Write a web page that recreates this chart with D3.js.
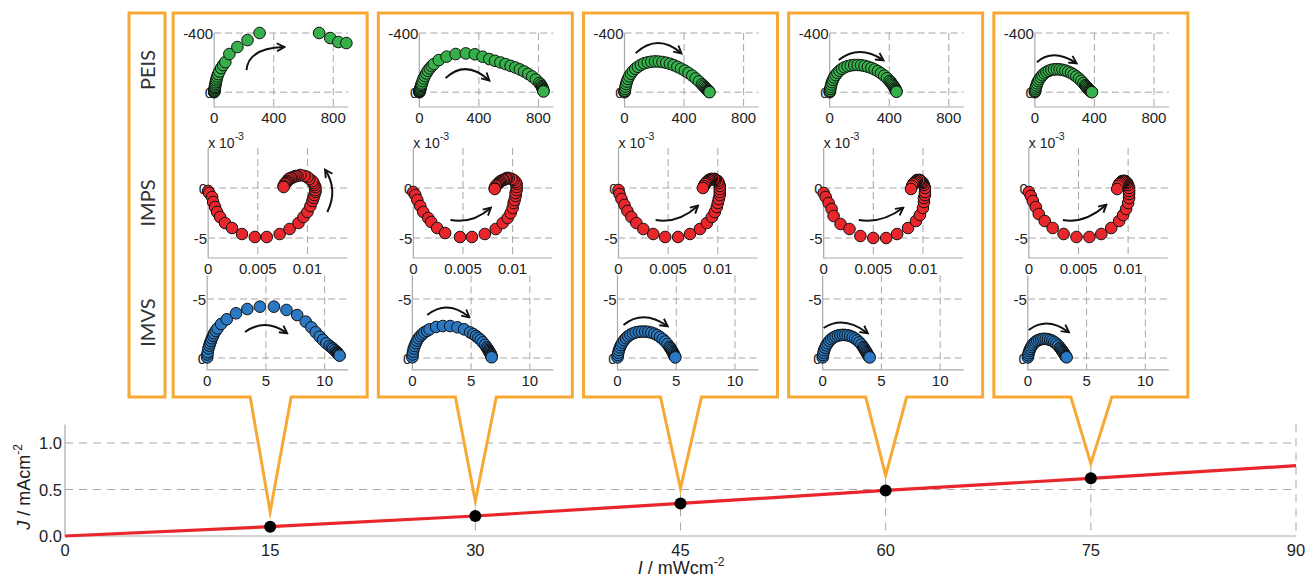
<!DOCTYPE html>
<html>
<head>
<meta charset="utf-8">
<script src="https://cdn.jsdelivr.net/npm/d3@7.9.0/dist/d3.min.js"></script>
<style>
  body { margin: 0; background: #fff; }
  svg { display: block; font-family: "Liberation Sans", Arial, sans-serif; }
</style>
</head>
<body>
<svg id="chart" width="1306" height="577"></svg>
<script>
// light intensity (mW cm-2) and photocurrent (mA cm-2)
const intensities = [15, 30, 45, 60, 75];
const currentDensity = [0.10, 0.215, 0.35, 0.49, 0.62];
const curveI = [0, 15, 30, 45, 60, 75, 90];
const curveJ = [0, 0.10, 0.215, 0.35, 0.49, 0.62, 0.756];
const iTicks = [0, 15, 30, 45, 60, 75, 90];
const jTicks = [0, 0.5, 1.0];

const techniques = ['PEIS', 'IMPS', 'IMVS'];

// PEIS: [Z', Z''] in ohm
const PEIS_15 = [[0,0],[0,-3],[1,-6],[2,-12],[3,-20],[4,-28],[5,-35],[7,-45],[9,-56],[11,-67],[14,-80],[17,-93],[21,-107],[27,-122],[35,-140],[47,-163],[60,-183],[75,-203],[102,-258],[156,-305],[224,-352],[305,-400],[705,-400],[780,-366],[834,-339],[888,-332]];
const PEIS_30 = [[0,0],[1,-3],[2,-5],[3,-8],[4,-12],[5,-18],[7,-25],[9,-33],[11,-42],[14,-50],[18,-59],[22,-75],[29,-93],[37,-110],[47,-127],[57,-145],[70,-161],[83,-176],[97,-190],[131,-217],[183,-240],[244,-258],[312,-262],[373,-256],[425,-240],[470,-224],[508,-212],[545,-201],[579,-190],[613,-178],[645,-167],[675,-154],[704,-140],[731,-124],[758,-106],[783,-86],[806,-63],[815,-52],[821,-41],[825,-33],[828,-25],[830,-19],[832,-14],[833,-9],[834,-5]];
const PEIS_45 = [[0,0],[1,-5],[2,-10],[4,-22],[7,-38],[11,-55],[16,-72],[23,-90],[32,-108],[43,-125],[56,-142],[72,-158],[90,-172],[110,-185],[132,-195],[156,-202],[180,-206],[205,-208],[230,-207],[255,-204],[280,-199],[305,-192],[330,-183],[355,-172],[380,-160],[405,-146],[430,-130],[455,-112],[478,-93],[500,-73],[520,-53],[530,-44],[538,-35],[546,-27],[552,-20],[558,-14],[562,-9],[566,-5],[568,-3],[571,0]];
const PEIS_60 = [[0,0],[1,-5],[2,-10],[4,-22],[7,-36],[11,-52],[16,-68],[22,-84],[30,-100],[40,-116],[52,-131],[66,-145],[82,-158],[100,-168],[120,-176],[142,-181],[165,-184],[188,-184],[211,-182],[234,-178],[257,-172],[280,-164],[302,-154],[324,-142],[345,-128],[366,-112],[385,-95],[402,-77],[410,-68],[417,-58],[424,-49],[430,-40],[436,-31],[440,-24],[444,-17],[446,-11],[448,-6],[449,-3]];
const PEIS_75 = [[0,0],[1,-5],[2,-10],[4,-21],[7,-33],[11,-46],[16,-60],[22,-74],[30,-88],[40,-102],[51,-115],[64,-127],[78,-137],[94,-145],[111,-151],[129,-154],[148,-155],[167,-154],[186,-151],[205,-146],[224,-139],[243,-130],[261,-119],[279,-106],[296,-92],[312,-77],[326,-61],[338,-47],[344,-40],[350,-33],[356,-26],[362,-20],[367,-15],[372,-10],[376,-6],[380,-3],[384,0]];

// IMPS: [Re, Im] of transfer function
const IMPS_15 = [[0.0000,-0.0003],[0.0001,-0.0005],[0.0004,-0.0009],[0.0005,-0.0014],[0.0007,-0.0019],[0.0009,-0.0024],[0.0012,-0.0029],[0.0017,-0.0035],[0.0024,-0.0040],[0.0034,-0.0046],[0.0047,-0.0049],[0.0059,-0.0049],[0.0072,-0.0046],[0.0082,-0.0041],[0.0091,-0.0035],[0.0096,-0.0029],[0.0100,-0.0024],[0.0103,-0.0018],[0.0105,-0.0013],[0.0106,-0.0010],[0.0107,-0.0007],[0.0108,-0.0004],[0.0108,-0.0002],[0.0108,0.0001],[0.0107,0.0003],[0.0106,0.0005],[0.0105,0.0007],[0.0102,0.0009],[0.0100,0.0011],[0.0097,0.0012],[0.0093,0.0013],[0.0090,0.0012],[0.0088,0.0012],[0.0086,0.0011],[0.0084,0.0010],[0.0083,0.0010],[0.0081,0.0009],[0.0080,0.0007],[0.0079,0.0006],[0.0078,0.0005],[0.0077,0.0004],[0.0076,0.0002],[0.0076,0.0001]];
const IMPS_30 = [[0.0000,-0.0004],[0.0002,-0.0007],[0.0004,-0.0012],[0.0007,-0.0018],[0.0010,-0.0024],[0.0015,-0.0030],[0.0018,-0.0034],[0.0024,-0.0040],[0.0032,-0.0045],[0.0047,-0.0049],[0.0059,-0.0049],[0.0072,-0.0046],[0.0083,-0.0041],[0.0090,-0.0035],[0.0095,-0.0030],[0.0098,-0.0025],[0.0100,-0.0020],[0.0101,-0.0015],[0.0102,-0.0012],[0.0103,-0.0008],[0.0103,-0.0005],[0.0104,-0.0002],[0.0104,0.0001],[0.0104,0.0004],[0.0103,0.0006],[0.0101,0.0008],[0.0099,0.0009],[0.0096,0.0010],[0.0094,0.0010],[0.0093,0.0009],[0.0091,0.0008],[0.0090,0.0008],[0.0088,0.0007],[0.0087,0.0006],[0.0086,0.0005],[0.0085,0.0004],[0.0084,0.0003],[0.0083,0.0002],[0.0082,0.0000],[0.0082,-0.0001]];
const IMPS_45 = [[0.0000,-0.0002],[0.0001,-0.0006],[0.0003,-0.0011],[0.0006,-0.0017],[0.0009,-0.0023],[0.0013,-0.0029],[0.0018,-0.0035],[0.0025,-0.0041],[0.0035,-0.0046],[0.0047,-0.0049],[0.0060,-0.0049],[0.0072,-0.0046],[0.0082,-0.0041],[0.0089,-0.0035],[0.0094,-0.0029],[0.0097,-0.0024],[0.0099,-0.0019],[0.0100,-0.0015],[0.0101,-0.0011],[0.0102,-0.0007],[0.0102,-0.0004],[0.0102,-0.0001],[0.0102,0.0002],[0.0101,0.0005],[0.0100,0.0007],[0.0098,0.0008],[0.0097,0.0009],[0.0096,0.0009],[0.0094,0.0009],[0.0093,0.0009],[0.0092,0.0008],[0.0091,0.0008],[0.0090,0.0007],[0.0089,0.0006],[0.0088,0.0005],[0.0087,0.0004],[0.0086,0.0002],[0.0085,0.0000]];
const IMPS_60 = [[0.0000,-0.0005],[0.0002,-0.0009],[0.0005,-0.0015],[0.0008,-0.0021],[0.0010,-0.0028],[0.0017,-0.0036],[0.0026,-0.0041],[0.0037,-0.0048],[0.0050,-0.0050],[0.0063,-0.0050],[0.0074,-0.0046],[0.0085,-0.0040],[0.0093,-0.0033],[0.0097,-0.0027],[0.0100,-0.0020],[0.0101,-0.0014],[0.0101,-0.0010],[0.0102,-0.0007],[0.0102,-0.0004],[0.0102,0.0000],[0.0101,0.0003],[0.0100,0.0005],[0.0099,0.0006],[0.0098,0.0007],[0.0097,0.0008],[0.0096,0.0008],[0.0094,0.0008],[0.0093,0.0007],[0.0092,0.0006],[0.0091,0.0005],[0.0090,0.0004],[0.0089,0.0002],[0.0088,-0.0001]];
const IMPS_75 = [[0.0000,-0.0004],[0.0002,-0.0008],[0.0004,-0.0013],[0.0007,-0.0019],[0.0010,-0.0026],[0.0016,-0.0033],[0.0024,-0.0040],[0.0035,-0.0046],[0.0048,-0.0049],[0.0061,-0.0049],[0.0073,-0.0046],[0.0083,-0.0040],[0.0091,-0.0033],[0.0095,-0.0027],[0.0098,-0.0021],[0.0100,-0.0015],[0.0101,-0.0010],[0.0101,-0.0006],[0.0101,-0.0003],[0.0101,0.0000],[0.0100,0.0003],[0.0099,0.0005],[0.0098,0.0006],[0.0097,0.0007],[0.0096,0.0007],[0.0095,0.0007],[0.0094,0.0007],[0.0093,0.0006],[0.0092,0.0005],[0.0091,0.0004],[0.0090,0.0002],[0.0089,-0.0001]];

// IMVS: [Re, Im]
const IMVS_15 = [[0,-0.05],[0.02,-0.3],[0.05,-0.5],[0.11,-0.82],[0.18,-1.05],[0.25,-1.25],[0.32,-1.45],[0.4,-1.67],[0.5,-1.88],[0.59,-2.09],[0.73,-2.3],[0.88,-2.51],[1.19,-2.88],[1.67,-3.28],[2.46,-3.79],[3.42,-4.15],[4.49,-4.35],[5.68,-4.35],[6.75,-4.07],[7.66,-3.64],[8.39,-3.08],[8.87,-2.6],[9.24,-2.18],[9.58,-1.81],[9.86,-1.53],[10.14,-1.25],[10.42,-1.02],[10.6,-0.88],[10.71,-0.79],[10.85,-0.66],[10.99,-0.54],[11.05,-0.47],[11.1,-0.4],[11.15,-0.34],[11.2,-0.28],[11.24,-0.24],[11.27,-0.2]];
const IMVS_30 = [[0,-0.06],[0.03,-0.3],[0.06,-0.54],[0.12,-0.8],[0.2,-1.02],[0.3,-1.25],[0.4,-1.47],[0.53,-1.67],[0.68,-1.86],[0.85,-2.02],[1.02,-2.17],[1.25,-2.3],[1.47,-2.43],[2.03,-2.63],[2.6,-2.71],[3.22,-2.71],[3.84,-2.6],[4.41,-2.43],[4.92,-2.17],[5.2,-2.02],[5.42,-1.86],[5.62,-1.7],[5.82,-1.53],[6.0,-1.32],[6.19,-1.1],[6.33,-0.9],[6.4,-0.79],[6.47,-0.68],[6.52,-0.59],[6.57,-0.5],[6.62,-0.42],[6.67,-0.34],[6.7,-0.27],[6.72,-0.2],[6.74,-0.12],[6.75,-0.06]];
const IMVS_45 = [[0,-0.05],[0.03,-0.25],[0.07,-0.45],[0.13,-0.68],[0.21,-0.9],[0.3,-1.1],[0.42,-1.3],[0.56,-1.5],[0.72,-1.68],[0.9,-1.84],[1.1,-1.98],[1.32,-2.09],[1.56,-2.17],[1.82,-2.22],[2.08,-2.24],[2.35,-2.24],[2.62,-2.21],[2.88,-2.15],[3.14,-2.06],[3.38,-1.94],[3.62,-1.78],[3.85,-1.6],[4.06,-1.4],[4.25,-1.18],[4.42,-0.95],[4.5,-0.84],[4.57,-0.72],[4.64,-0.61],[4.7,-0.5],[4.75,-0.4],[4.8,-0.3],[4.84,-0.22],[4.87,-0.14],[4.9,-0.09],[4.92,-0.05]];
const IMVS_60 = [[0,-0.05],[0.03,-0.25],[0.07,-0.45],[0.13,-0.66],[0.21,-0.87],[0.31,-1.07],[0.43,-1.26],[0.57,-1.44],[0.73,-1.6],[0.91,-1.73],[1.1,-1.83],[1.3,-1.9],[1.51,-1.94],[1.72,-1.96],[1.93,-1.95],[2.14,-1.92],[2.35,-1.86],[2.56,-1.77],[2.76,-1.65],[2.95,-1.5],[3.13,-1.33],[3.3,-1.14],[3.45,-0.93],[3.52,-0.82],[3.59,-0.71],[3.66,-0.6],[3.72,-0.5],[3.78,-0.4],[3.83,-0.3],[3.88,-0.22],[3.93,-0.14],[3.97,-0.09],[4.0,-0.05]];
const IMVS_75 = [[0,-0.05],[0.03,-0.23],[0.07,-0.41],[0.13,-0.6],[0.2,-0.77],[0.29,-0.94],[0.39,-1.1],[0.51,-1.24],[0.65,-1.37],[0.8,-1.47],[0.97,-1.55],[1.15,-1.6],[1.33,-1.62],[1.52,-1.62],[1.71,-1.59],[1.9,-1.54],[2.08,-1.46],[2.26,-1.35],[2.43,-1.21],[2.59,-1.05],[2.74,-0.87],[2.81,-0.78],[2.88,-0.68],[2.95,-0.58],[3.01,-0.49],[3.07,-0.4],[3.13,-0.31],[3.18,-0.23],[3.22,-0.16],[3.26,-0.1],[3.3,-0.06]];

// curved arrows [start, control, end] in each subplot's data units
const peisArrows = [
  [[217,-149],[230,-298],[468,-305]],
  [[176,-95],[312,-224],[468,-81]],
  [[75,-264],[224,-400],[380,-264]],
  [[61,-217],[197,-325],[359,-217]],
  [[14,-203],[122,-298],[278,-197]]
];
const impsArrows = [
  [[0.0120,-0.0024],[0.0131,-0.0002],[0.0118,0.0018]],
  [[0.00374,-0.0032],[0.00596,-0.0036],[0.00778,-0.0020]],
  [[0.00374,-0.0032],[0.00596,-0.0036],[0.00798,-0.0018]],
  [[0.00354,-0.0032],[0.00576,-0.0036],[0.00798,-0.0020]],
  [[0.00343,-0.0032],[0.0056,-0.0036],[0.00778,-0.0017]]
];
const imvsArrows = [
  [[3.22,-2.2],[4.92,-3.43],[6.78,-2.12]],
  [[1.27,-3.64],[2.97,-5.0],[4.83,-3.47]],
  [[0.51,-2.8],[2.2,-4.15],[4.24,-2.71]],
  [[0.08,-2.54],[1.78,-3.64],[3.81,-2.12]],
  [[0.08,-2.37],[1.61,-3.56],[3.47,-2.2]]
];

const peisXTicks = [0, 400, 800];
const peisYTicks = [-400, 0];
const impsXTicks = [0, 0.005, 0.01];
const impsXLabels = ['0', '0.005', '0.01'];
const impsYTicks = [0, -0.005];
const impsYLabels = ['0', '-5'];
const imvsXTicks = [0, 5, 10];
const imvsYTicks = [-5, 0];

const ORANGE = '#F6A935';
const GRID = '#A6A6A6';
const AXIS = '#A9A9A9';

const svg = d3.select('#chart');

const x = d3.scaleLinear().domain([0, 90]).range([65, 1296]);
const y = d3.scaleLinear().domain([0, 1.2]).range([536, 424.4]);

const defs = svg.append('defs');
defs
  .append('marker')
  .attr('id', 'head')
  .attr('viewBox', '0 0 10 10')
  .attr('refX', 8)
  .attr('refY', 5)
  .attr('markerWidth', 10)
  .attr('markerHeight', 10)
  .attr('markerUnits', 'userSpaceOnUse')
  .attr('orient', 'auto')
  .append('path')
  .attr('d', 'M1,1L8.5,5L1,9')
  .attr('fill', 'none')
  .attr('stroke', '#111')
  .attr('stroke-width', 1.9);

// ---- bottom J vs I chart ----
const bottom = svg.append('g');

bottom
  .selectAll('.hgrid')
  .data(jTicks.filter((d) => d > 0))
  .join('line')
  .attr('x1', x(0))
  .attr('x2', x(90))
  .attr('y1', (d) => y(d))
  .attr('y2', (d) => y(d))
  .attr('stroke', GRID)
  .attr('stroke-dasharray', '8,6');

bottom
  .selectAll('.vgrid')
  .data(iTicks.filter((d) => d > 0))
  .join('line')
  .attr('x1', (d) => x(d))
  .attr('x2', (d) => x(d))
  .attr('y1', y(1.2))
  .attr('y2', y(0))
  .attr('stroke', GRID)
  .attr('stroke-dasharray', '8,6');

bottom
  .append('path')
  .attr('d', `M${x(0)},${y(1.2)}V${y(0)}H${x(90)}`)
  .attr('fill', 'none')
  .attr('stroke', AXIS)
  .attr('stroke-width', 1.2);

bottom
  .selectAll('.ytl')
  .data(jTicks)
  .join('text')
  .attr('x', 62)
  .attr('y', (d) => y(d) + 6)
  .attr('text-anchor', 'end')
  .attr('font-size', 16.5)
  .attr('fill', '#222')
  .text(d3.format('.1f'));

bottom
  .selectAll('.xtl')
  .data(iTicks)
  .join('text')
  .attr('x', (d) => x(d))
  .attr('y', 556)
  .attr('text-anchor', 'middle')
  .attr('font-size', 16.5)
  .attr('fill', '#222')
  .text((d) => d);

const yLab = bottom
  .append('text')
  .attr('transform', 'translate(30,487) rotate(-90)')
  .attr('text-anchor', 'middle')
  .attr('font-size', 18)
  .attr('fill', '#222');
yLab.append('tspan').attr('font-style', 'italic').text('J');
yLab.append('tspan').text(' / mAcm');
yLab.append('tspan').attr('font-size', 12).attr('dy', -8).text('-2');

const xLab = bottom
  .append('text')
  .attr('x', 681)
  .attr('y', 574)
  .attr('text-anchor', 'middle')
  .attr('font-size', 18)
  .attr('fill', '#222');
xLab.append('tspan').attr('font-style', 'italic').text('I');
xLab.append('tspan').text(' / mWcm');
xLab.append('tspan').attr('font-size', 12).attr('dy', -8).text('-2');

// ---- callout frames ----
const BOX_TOP = 13;
const BOX_BOTTOM = 397;

function calloutPath(cx, tipY) {
  const l = cx - 97;
  const r = cx + 97;
  return `M${l},${BOX_TOP}H${r}V${BOX_BOTTOM}H${cx + 21}L${cx},${tipY}L${cx - 20},${BOX_BOTTOM}H${l}Z`;
}

svg
  .append('rect')
  .attr('x', 129)
  .attr('y', BOX_TOP)
  .attr('width', 36)
  .attr('height', BOX_BOTTOM - BOX_TOP)
  .attr('fill', '#fff')
  .attr('stroke', ORANGE)
  .attr('stroke-width', 3);

svg
  .append('g')
  .selectAll('path')
  .data(intensities)
  .join('path')
  .attr('d', (d, i) => calloutPath(x(d), y(currentDensity[i]) - 15))
  .attr('fill', '#fff')
  .attr('stroke', ORANGE)
  .attr('stroke-width', 3)
  .attr('stroke-linejoin', 'miter')
  .attr('stroke-miterlimit', 10);

// red J-I line and measurement points
svg
  .append('path')
  .datum(curveI.map((d, i) => [d, curveJ[i]]))
  .attr('d', d3.line().x((d) => x(d[0])).y((d) => y(d[1])))
  .attr('fill', 'none')
  .attr('stroke', '#E8262B')
  .attr('stroke-width', 3.2);

svg
  .append('g')
  .selectAll('circle')
  .data(intensities)
  .join('circle')
  .attr('cx', (d) => x(d))
  .attr('cy', (d, i) => y(currentDensity[i]))
  .attr('r', 6)
  .attr('fill', '#000');

// ---- technique labels ----
const plotDefs = [
  {
    series: [PEIS_15, PEIS_30, PEIS_45, PEIS_60, PEIS_75],
    arrows: peisArrows,
    fill: '#35B04A',
    left: -56, right: 78, top: 33, bottom: 107,
    xDomain: [0, 900], yDomain: [-400, 100],
    xTicks: peisXTicks, xLabels: peisXTicks.map(String),
    yTicks: peisYTicks, yLabels: peisYTicks.map(String),
    exponent: false
  },
  {
    series: [IMPS_15, IMPS_30, IMPS_45, IMPS_60, IMPS_75],
    arrows: impsArrows,
    fill: '#E8262B',
    left: -62, right: 77, top: 148, bottom: 258,
    xDomain: [0, 0.014], yDomain: [0.004, -0.007],
    xTicks: impsXTicks, xLabels: impsXLabels,
    yTicks: impsYTicks, yLabels: impsYLabels,
    exponent: true
  },
  {
    series: [IMVS_15, IMVS_30, IMVS_45, IMVS_60, IMVS_75],
    arrows: imvsArrows,
    fill: '#2A79C2',
    left: -63, right: 78, top: 275.4, bottom: 369.8,
    xDomain: [0, 12], yDomain: [-7, 1],
    xTicks: imvsXTicks, xLabels: imvsXTicks.map(String),
    yTicks: imvsYTicks, yLabels: imvsYTicks.map(String),
    exponent: false
  }
];

svg
  .append('g')
  .selectAll('text')
  .data(techniques)
  .join('text')
  .attr('transform', (d, i) => `translate(155,${(plotDefs[i].top + plotDefs[i].bottom) / 2}) rotate(-90)`)
  .attr('text-anchor', 'middle')
  .attr('font-family', 'Lato, "Open Sans", sans-serif')
  .attr('font-size', 20)
  .attr('fill', '#333')
  .text((d) => d);

// ---- small Nyquist plots ----
function drawSubplot(g, cx, def, data, arrow) {
  const x0 = cx + def.left;
  const x1 = cx + def.right;
  const sx = d3.scaleLinear().domain(def.xDomain).range([x0, x1]);
  const sy = d3.scaleLinear().domain(def.yDomain).range([def.top, def.bottom]);

  g.selectAll(null)
    .data(def.yTicks)
    .join('line')
    .attr('x1', x0)
    .attr('x2', x1)
    .attr('y1', (d) => sy(d))
    .attr('y2', (d) => sy(d))
    .attr('stroke', GRID)
    .attr('stroke-dasharray', '7,4');

  g.selectAll(null)
    .data(def.xTicks.filter((d) => d > 0))
    .join('line')
    .attr('x1', (d) => sx(d))
    .attr('x2', (d) => sx(d))
    .attr('y1', def.top)
    .attr('y2', def.bottom)
    .attr('stroke', GRID)
    .attr('stroke-dasharray', '7,4');

  g.append('path')
    .attr('d', `M${x0},${def.top}V${def.bottom}H${x1}`)
    .attr('fill', 'none')
    .attr('stroke', AXIS)
    .attr('stroke-width', 1.2);

  g.selectAll(null)
    .data(def.xTicks)
    .join('text')
    .attr('x', (d) => sx(d))
    .attr('y', def.bottom + 16)
    .attr('text-anchor', 'middle')
    .attr('font-size', 15)
    .attr('fill', '#222')
    .text((d, i) => def.xLabels[i]);

  g.selectAll(null)
    .data(def.yTicks)
    .join('text')
    .attr('x', x0 - 1)
    .attr('y', (d) => sy(d) + 5.5)
    .attr('text-anchor', 'end')
    .attr('font-size', 15)
    .attr('fill', '#222')
    .text((d, i) => def.yLabels[i]);

  if (def.exponent) {
    const t = g.append('text')
      .attr('x', x0)
      .attr('y', def.top)
      .attr('font-size', 14)
      .attr('fill', '#222');
    t.append('tspan').text('x 10');
    t.append('tspan').attr('font-size', 10.5).attr('dy', -8).text('-3');
  }

  g.selectAll(null)
    .data(data)
    .join('circle')
    .attr('cx', (d) => sx(d[0]))
    .attr('cy', (d) => sy(d[1]))
    .attr('r', 5.8)
    .attr('fill', def.fill)
    .attr('stroke', '#111')
    .attr('stroke-width', 1);

  const [s, c, e] = arrow;
  g.append('path')
    .attr('d', `M${sx(s[0])},${sy(s[1])}Q${sx(c[0])},${sy(c[1])} ${sx(e[0])},${sy(e[1])}`)
    .attr('fill', 'none')
    .attr('stroke', '#111')
    .attr('stroke-width', 2)
    .attr('marker-end', 'url(#head)');
}

intensities.forEach((I, k) => {
  const cx = x(I);
  plotDefs.forEach((def) => {
    drawSubplot(svg.append('g'), cx, def, def.series[k], def.arrows[k]);
  });
});
</script>
</body>
</html>
